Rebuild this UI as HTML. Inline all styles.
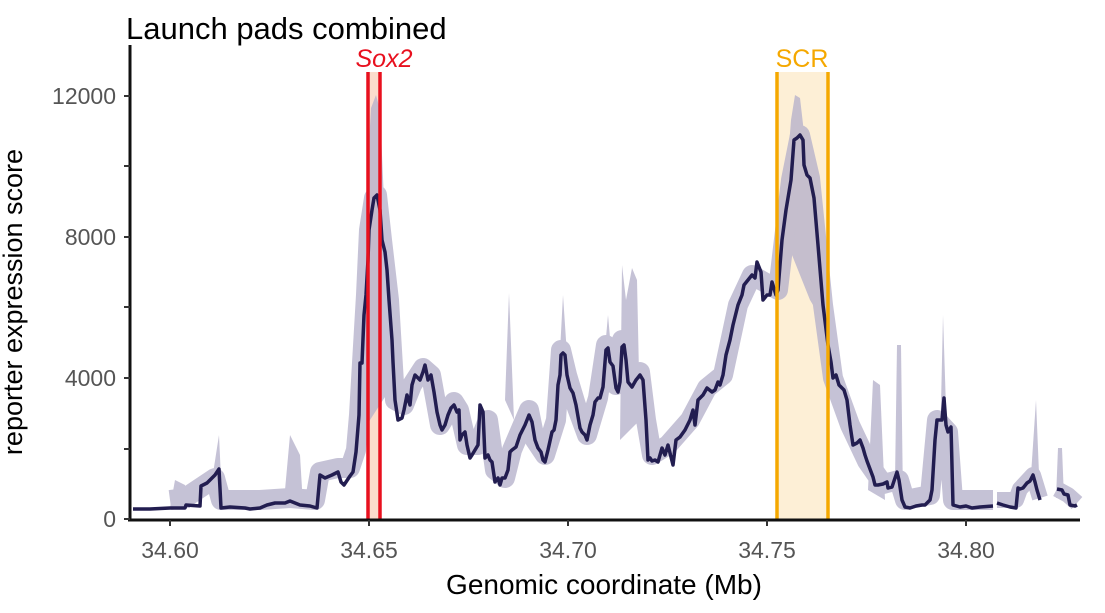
<!DOCTYPE html>
<html><head><style>body{margin:0;background:#fff}svg{display:block;font-family:"Liberation Sans",sans-serif}</style></head><body>
<svg width="1105" height="613" viewBox="0 0 1105 613" xmlns="http://www.w3.org/2000/svg">
<rect x="777" y="72" width="51" height="448" fill="#fdefd6"/>
<rect x="368" y="72" width="12" height="448" fill="#fbdccc"/>
<g opacity="0.78">
<g fill="#b6b1cb">
<polygon points="356,450 360,330 366,200 371,108 376,95 380,110 384,200 390,290 396,380 370,420"/>
<polygon points="778,270 785,200 791,120 795,95 800,98 806,150 812,190 820,270 828,330 810,300 790,250"/>
<polygon points="620,440 622,265 626,300 632,268 637,280 640,420"/>
<polygon points="559,370 563,295 566,340 570,380"/>
<polygon points="604,360 608,315 612,360"/>
<polygon points="505,400 509,293 514,420"/>
<polygon points="940,450 943,315 948,470"/>
<polygon points="895,480 897,345 901,345 903,500"/>
<polygon points="868,490 873,380 880,385 885,500"/>
<polygon points="1030,490 1036,400 1040,498"/>
<polygon points="1056,498 1058,448 1062,448 1064,498"/>
<polygon points="285,490 290,435 300,455 303,505"/>
<polygon points="212,480 219,435 222,500"/>
<polygon points="170,508 175,480 185,485 190,508"/>
</g>
<g fill="none" stroke="#b6b1cb" stroke-linejoin="round">
<polyline stroke-width="20" points="170,500 185,498 200,488 215,478 221,500 260,500 290,498 315,500 320,472 338,468 350,468 356,450 359,415 362,363 366,295 369,230 374,198 377,195 382,240 389,300 395,400 404,405 412,385 423,368 431,375 440,425 454,402 459,410 467,445 478,445 488,420 495,470 505,478 512,450 529,410 535,440 545,455 556,420 561,350 567,375 576,405 587,435 598,398 606,345 616,385 622,340 628,380 640,372 646,420 652,455 668,445 690,420 707,388 723,375 738,305 752,275 778,290 791,180 800,135 810,178 823,305 833,378 850,425 867,461 883,484 899,480 905,500 930,495 937,420 948,432 953,500 993,500"/>
<polyline stroke-width="16" points="997,500 1016,500 1020,489 1033,475 1040,498"/>
<polyline stroke-width="16" points="1057,489 1068,495 1077,503"/>
</g>
</g>
<g fill="none" stroke="#221d50" stroke-width="3.5" stroke-linejoin="round">
<polyline points="133,509 150,509 170,508 185,508 186,505 200,506 201,486 207,483 210,480 215,475 219,469 221,508 230,507 245,508 250,509 260,508 267,505 275,503 285,503 290,501 300,505 310,506 317,508 320,475 325,478 332,475 338,472 341,482 344,485 350,476 353,472 356,452 359,415 360,363 362,363 364,315 366,295 368,260 369,230 372,210 374,198 377,195 380,210 382,240 385,252 387,270 389,300 392,340 393,362 395,400 398,420 402,418 404,410 407,395 410,405 412,385 415,375 418,378 420,380 423,372 425,365 428,380 431,375 434,392 437,412 440,425 442,430 445,425 448,415 451,408 454,405 457,412 459,410 460,440 462,435 465,432 467,445 470,458 472,455 475,450 478,445 480,405 483,412 485,458 488,455 490,460 492,462 495,482 498,478 500,485 502,478 505,478 508,470 510,452 512,450 516,447 520,435 525,425 529,415 532,422 535,440 538,448 541,452 543,460 545,462 548,450 552,432 554,430 556,420 558,385 560,375 561,355 563,353 565,355 567,375 570,388 573,393 576,405 580,428 582,432 585,435 587,440 590,425 593,415 595,402 598,398 600,398 603,387 606,350 608,348 610,362 613,366 616,388 618,392 620,382 622,347 624,345 626,360 628,382 632,387 636,380 640,375 643,380 646,420 648,460 650,458 652,461 655,460 658,462 662,448 665,455 668,445 673,465 676,440 680,437 685,430 690,420 693,410 695,425 698,400 703,395 707,388 712,392 715,390 718,382 720,385 723,375 726,355 730,340 733,325 738,305 742,295 744,285 748,280 752,275 755,278 757,262 761,272 763,300 767,295 770,295 772,282 776,295 778,290 782,240 786,210 791,180 794,140 797,138 800,135 803,140 804,165 807,175 810,178 814,198 818,245 823,305 828,345 831,362 833,378 836,375 839,385 844,390 847,400 850,425 853,445 857,443 860,440 863,448 865,455 867,461 873,477 875,485 878,485 883,484 887,482 888,488 892,487 895,478 897,472 899,480 902,500 905,507 910,508 916,506 922,505 925,505 928,502 930,500 932,490 935,440 937,420 942,420 944,398 946,425 948,432 951,427 953,505 960,507 966,506 972,508 980,507 993,506"/>
<polyline points="997,503 1003,505 1010,507 1016,508 1018,488 1020,489 1023,488 1027,483 1030,481 1033,475 1035,482 1037,490 1040,500"/>
<polyline points="1057,489 1062,490 1064,494 1068,495 1070,505 1075,506 1077,505"/>
</g>
<g stroke="#e8101e" stroke-width="3.5"><line x1="368" y1="72" x2="368" y2="520"/><line x1="380" y1="72" x2="380" y2="520"/></g>
<g stroke="#f5a800" stroke-width="3.5"><line x1="777" y1="72" x2="777" y2="520"/><line x1="828" y1="72" x2="828" y2="520"/></g>
<g stroke="#111" stroke-width="3"><line x1="130" y1="45" x2="130" y2="521"/><line x1="128" y1="520" x2="1080" y2="520"/></g>
<g stroke="#333" stroke-width="2">
<line x1="124" y1="96" x2="130" y2="96"/><line x1="124" y1="166" x2="130" y2="166"/><line x1="124" y1="237" x2="130" y2="237"/><line x1="124" y1="307" x2="130" y2="307"/><line x1="124" y1="378" x2="130" y2="378"/><line x1="124" y1="449" x2="130" y2="449"/><line x1="124" y1="519" x2="130" y2="519"/>
<line x1="170" y1="520" x2="170" y2="526"/><line x1="369" y1="520" x2="369" y2="526"/><line x1="568" y1="520" x2="568" y2="526"/><line x1="767" y1="520" x2="767" y2="526"/><line x1="966" y1="520" x2="966" y2="526"/>
</g>
<g fill="#555" font-size="23" text-anchor="end">
<text x="116" y="104">12000</text><text x="116" y="245">8000</text><text x="116" y="386">4000</text><text x="116" y="527">0</text>
</g>
<g fill="#555" font-size="23" text-anchor="middle">
<text x="170" y="558">34.60</text><text x="369" y="558">34.65</text><text x="568" y="558">34.70</text><text x="767" y="558">34.75</text><text x="966" y="558">34.80</text>
</g>
<text x="604" y="594" font-size="28" text-anchor="middle" fill="#000">Genomic coordinate (Mb)</text>
<text transform="translate(22,302) rotate(-90)" font-size="27" text-anchor="middle" fill="#000">reporter expression score</text>
<text x="126" y="39" font-size="31" fill="#000">Launch pads combined</text>
<text x="384" y="67" font-size="25" font-style="italic" text-anchor="middle" fill="#e8101e">Sox2</text>
<text x="802" y="67" font-size="25" text-anchor="middle" fill="#f5a800">SCR</text>
</svg>
</body></html>
